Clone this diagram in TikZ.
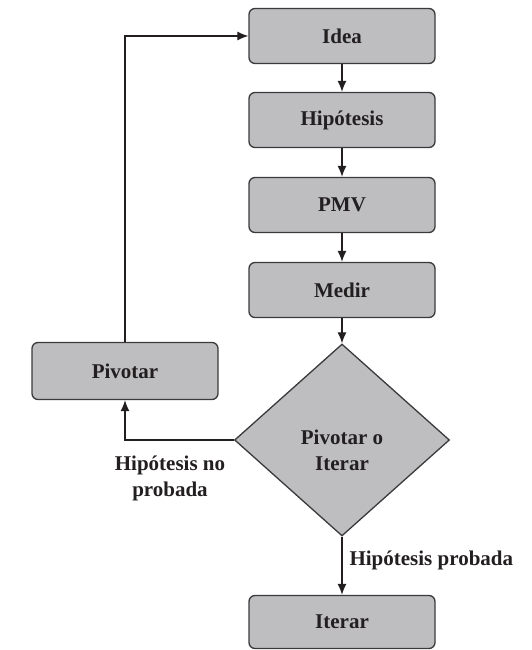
\documentclass[tikz,border=0pt]{standalone}
\usepackage{fontspec}
\setmainfont{Liberation Serif}
\usetikzlibrary{arrows.meta,shapes.geometric}

\definecolor{boxgray}{HTML}{BEBEC0}
\definecolor{edgegray}{HTML}{3A3A3C}
\definecolor{inkblack}{HTML}{231F20}

\tikzset{
  stagebox/.style = {draw=edgegray, fill=boxgray, line width=1.3pt, rounded corners=6pt,
                     minimum width=186pt, minimum height=55pt, text=inkblack,
                     font=\fontsize{21}{24}\selectfont\bfseries},
  choice/.style   = {draw=edgegray, fill=boxgray, line width=1.3pt, shape=diamond,
                     aspect=1.12, inner sep=0pt, minimum width=215pt, minimum height=192pt,
                     text=inkblack},
  flow/.style     = {draw=inkblack, line width=1.2pt, -{Latex[length=11pt,width=9pt]}},
  note/.style     = {text=inkblack, align=center, font=\fontsize{21}{26}\selectfont\bfseries}
}

\begin{document}
\begin{tikzpicture}[x=1pt,y=1pt]
\useasboundingbox (0,0) rectangle (532,650);
% main column
\node [stagebox] (idea)  at (342,614) {Idea};
\node [stagebox] (hipo)  at (342,530) {Hipótesis};
\node [stagebox] (pmv)   at (342,445) {PMV};
\node [stagebox] (medir) at (342,360) {Medir};
\node [choice]   (pivit) at (342,210) {};
\node [note] (pivtext) at (342,200) {Pivotar o\\Iterar};
\node [stagebox, minimum height=53pt] (iterar) at (342,28) {Iterar};
% side branch
\node [stagebox, minimum height=57pt] (pivotar) at (125,279) {Pivotar};
\draw [flow] (idea) -- (hipo);
\draw [flow] (hipo) -- (pmv);
\draw [flow] (pmv) -- (medir);
\draw [flow] (medir) -- (pivit);
\draw [flow] (pivit) -- (iterar);
\node [note, anchor=west] (yes) at (346,90) {Hipótesis probada};
\draw [flow] (pivit.west) -| (pivotar.south);
\node [note] (no) at (170,172) {Hipótesis no\\probada};
\draw [flow] (pivotar.north) |- (idea.west);
\end{tikzpicture}
\end{document}
